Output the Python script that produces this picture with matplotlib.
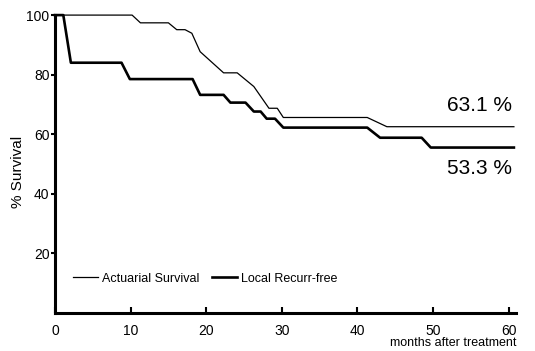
import matplotlib.pyplot as plt

plt.rcParams['font.family'] = ['Liberation Sans', 'DejaVu Sans']

# actuarial survival (thin line)
surv_months = [0, 10.2, 11.3, 15.0, 16.1, 17.2, 18.1, 19.2, 22.3, 24.1, 26.3, 28.3,
               29.4, 30.2, 41.3, 43.9, 60.7]
surv_values = [100, 100, 97.4, 97.4, 95.1, 95.1, 93.9, 87.7, 80.6, 80.6, 76.0, 68.7,
               68.7, 65.6, 65.6, 62.5, 62.5]

# local recurrence-free (thick line)
lrf_months = [0, 1.1, 2.1, 8.8, 9.9, 18.2, 19.2, 22.3, 23.2, 25.2, 26.3, 27.2,
              28.0, 29.1, 30.2, 41.3, 43.0, 48.5, 49.7, 60.7]
lrf_values = [100, 100, 84, 84, 78.5, 78.5, 73.2, 73.2, 70.6, 70.6, 67.6, 67.6,
              65.2, 65.2, 62.2, 62.2, 58.8, 58.8, 55.5, 55.5]

x_ticks = [0, 10, 20, 30, 40, 50, 60]
y_ticks = [20, 40, 60, 80, 100]

fig = plt.figure(figsize=(5.35, 3.51), dpi=100)
ax = fig.add_axes([0.1028, 0.109, 0.862, 0.848])

ax.plot(surv_months, surv_values, color='black', lw=0.9, clip_on=False,
        label='Actuarial Survival')
ax.plot(lrf_months, lrf_values, color='black', lw=1.9, clip_on=False,
        label='Local Recurr-free')

ax.set_xlim(0, 61)
ax.set_ylim(0, 100)
ax.spines['top'].set_visible(False)
ax.spines['right'].set_visible(False)
ax.spines['left'].set_linewidth(2.2)
ax.spines['bottom'].set_linewidth(2.2)

ax.set_xticks(x_ticks)
ax.set_yticks(y_ticks)
ax.tick_params(axis='x', direction='in', length=4, width=1.5, labelsize=10, pad=8)
ax.tick_params(axis='y', direction='out', length=3, width=1.5, labelsize=10, pad=1)

fig.text(0.034, 0.51, '% Survival', rotation=90, ha='center', va='center', fontsize=11)
ax.text(1.0, -0.083, 'months after treatment', transform=ax.transAxes,
        ha='right', va='top', fontsize=9)

ax.text(60.5, 66.5, '63.1 %', ha='right', va='bottom', fontsize=15)
ax.text(60.5, 51.5, '53.3 %', ha='right', va='top', fontsize=15)

ax.legend(loc='center left', bbox_to_anchor=(0.015, 0.115), ncol=2, frameon=False,
          fontsize=9, handlelength=2.0, handletextpad=0.3, columnspacing=1.0)

fig.savefig('out.png', dpi=100)
